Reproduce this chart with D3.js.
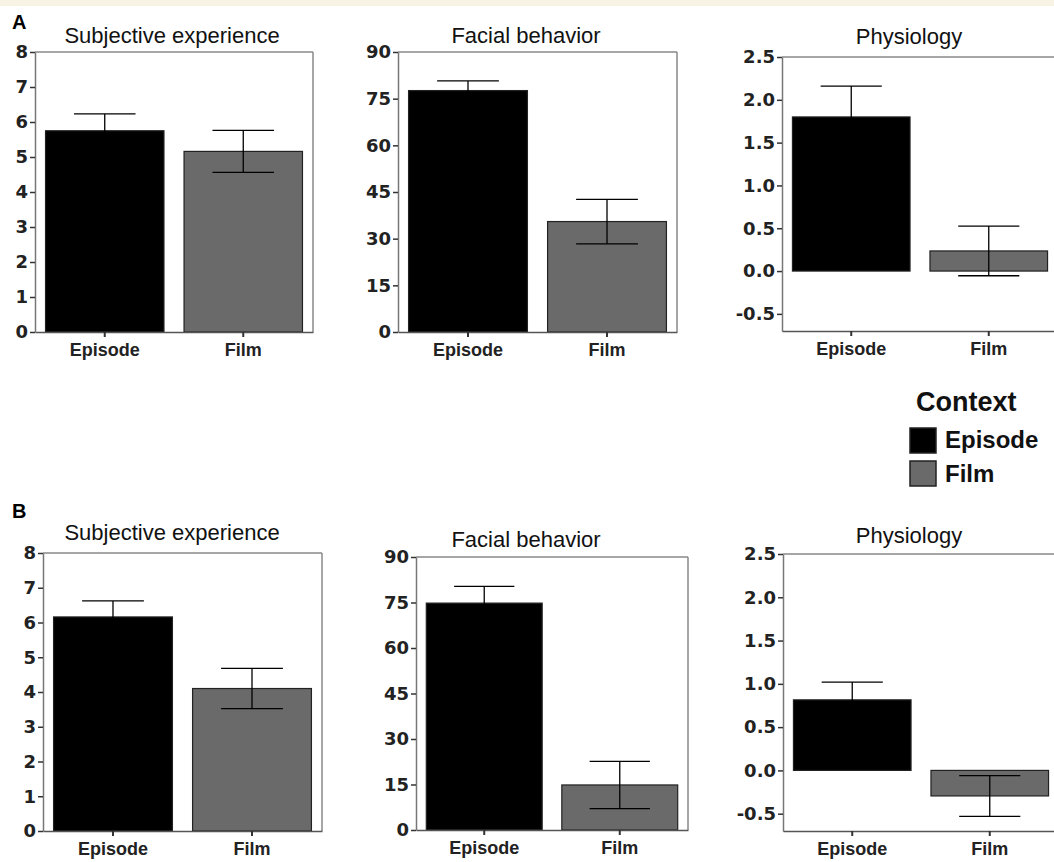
<!DOCTYPE html>
<html>
<head>
<meta charset="utf-8">
<script src="https://cdn.jsdelivr.net/npm/d3@7"></script>
<style>
  body { margin: 0; background: #fff; }
  svg { display: block; }
  text { font-family: "Liberation Sans", Arial, Helvetica, sans-serif; }
  .ytick { font-family: "DejaVu Sans", sans-serif; font-size: 18px; font-weight: bold; }
</style>
</head>
<body>
<div id="chart"></div>
<script>
// data
var contexts = ["Episode", "Film"];
var measures = ["Subjective experience", "Facial behavior", "Physiology"];
var meanA = [[5.75, 5.16], [77.6, 35.5], [1.80, 0.235]];
var semA = [[0.48, 0.60], [3.1, 7.15], [0.36, 0.29]];
var meanB = [[6.16, 4.10], [74.8, 14.85], [0.815, -0.295]];
var semB = [[0.46, 0.58], [5.5, 7.8], [0.205, 0.235]];
var yDomains = [[0, 8], [0, 90], [-0.7, 2.5]];
var yTicks = [[0, 1, 2, 3, 4, 5, 6, 7, 8], [0, 15, 30, 45, 60, 75, 90], [-0.5, 0, 0.5, 1, 1.5, 2, 2.5]];
var colors = ["#000000", "#6a6a6a"];

// where each panel sits on the page
var layoutA = [
    { l: 35, r: 313, t: 52, b: 332, tx: 172, ty: 43 },
    { l: 398, r: 677, t: 52, b: 332, tx: 526, ty: 43 },
    { l: 782, r: 1058, t: 57, b: 331, tx: 909, ty: 44 }
];
var layoutB = [
    { l: 43, r: 322, t: 553, b: 831, tx: 172, ty: 540 },
    { l: 416, r: 688, t: 557, b: 830, tx: 526, ty: 547 },
    { l: 783, r: 1059, t: 554, b: 831, tx: 909, ty: 543 }
];

var width = 1054, height = 862;

var svg = d3.select("#chart")
    .append("svg")
    .attr("width", width)
    .attr("height", height);

// thin cream strip at the top of the page
svg.append("rect")
    .attr("x", 0).attr("y", 0)
    .attr("width", width).attr("height", 6)
    .attr("fill", "#f6f2e4");

function drawPanel(lay, means, sems, k) {
    var g = svg.append("g");

    var x = d3.scaleBand()
        .domain(contexts)
        .range([lay.l, lay.r])
        .paddingInner(0.145)
        .paddingOuter(0.076);

    var y = d3.scaleLinear()
        .domain(yDomains[k])
        .range([lay.b, lay.t]);

    // top and right frame
    g.append("line")
        .attr("x1", lay.l).attr("x2", lay.r)
        .attr("y1", lay.t).attr("y2", lay.t)
        .attr("stroke", "#888").attr("stroke-width", 1.5);
    g.append("line")
        .attr("x1", lay.r).attr("x2", lay.r)
        .attr("y1", lay.t).attr("y2", lay.b)
        .attr("stroke", "#888").attr("stroke-width", 1.5);

    // bars
    g.selectAll(".bar")
        .data(contexts)
        .enter()
        .append("rect")
        .attr("x", function (c) { return x(c); })
        .attr("y", function (c, i) { return Math.min(y(means[i]), y(0)); })
        .attr("width", x.bandwidth())
        .attr("height", function (c, i) { return Math.abs(y(means[i]) - y(0)); })
        .attr("fill", function (c, i) { return colors[i]; })
        .attr("stroke", "#222")
        .attr("stroke-width", 1.2);

    // error bars (mean +/- sem)
    var capW = x.bandwidth() * 0.52;
    contexts.forEach(function (c, i) {
        var cx = x(c) + x.bandwidth() / 2;
        var hi = y(means[i] + sems[i]);
        var lo = y(means[i] - sems[i]);
        var eb = g.append("g")
            .attr("stroke", "#000")
            .attr("stroke-width", 1.3);
        eb.append("line")
            .attr("x1", cx).attr("x2", cx)
            .attr("y1", hi).attr("y2", lo);
        eb.append("line")
            .attr("x1", cx - capW / 2).attr("x2", cx + capW / 2)
            .attr("y1", hi).attr("y2", hi);
        eb.append("line")
            .attr("x1", cx - capW / 2).attr("x2", cx + capW / 2)
            .attr("y1", lo).attr("y2", lo);
    });

    // y axis
    var fmt = k == 2
        ? function (v) { return d3.format(".1f")(v).replace("\u2212", "-"); }
        : d3.format("d");
    var axisY = g.append("g")
        .attr("transform", "translate(" + lay.l + ",0)")
        .call(d3.axisLeft(y)
            .tickValues(yTicks[k])
            .tickFormat(fmt)
            .tickSize(5)
            .tickSizeOuter(0)
            .tickPadding(2));
    axisY.attr("font-size", null).attr("font-family", null);
    axisY.select(".domain").attr("stroke", "#777").attr("stroke-width", 1.5);
    axisY.selectAll(".tick line").attr("stroke", "#333").attr("stroke-width", 1.5);
    axisY.selectAll(".tick text")
        .attr("class", "ytick")
        .attr("fill", "#222");

    // x axis
    var axisX = g.append("g")
        .attr("transform", "translate(0," + lay.b + ")")
        .call(d3.axisBottom(x)
            .tickSize(5)
            .tickSizeOuter(0)
            .tickPadding(6));
    axisX.attr("font-size", null).attr("font-family", null);
    axisX.select(".domain").attr("stroke", "#555").attr("stroke-width", 1.5);
    axisX.selectAll(".tick line").attr("stroke", "#333").attr("stroke-width", 2);
    axisX.selectAll(".tick text")
        .attr("fill", "#222")
        .style("font-size", "18px")
        .style("font-weight", "bold");

    // panel title
    g.append("text")
        .attr("x", lay.tx)
        .attr("y", lay.ty)
        .attr("text-anchor", "middle")
        .style("font-size", "22px")
        .attr("fill", "#111")
        .text(measures[k]);
}

for (var k = 0; k < 3; k++) {
    drawPanel(layoutA[k], meanA[k], semA[k], k);
    drawPanel(layoutB[k], meanB[k], semB[k], k);
}

// panel letters
svg.append("text").attr("x", 12).attr("y", 29)
    .style("font-size", "20px").style("font-weight", "bold").text("A");
svg.append("text").attr("x", 12).attr("y", 518)
    .style("font-size", "20px").style("font-weight", "bold").text("B");

// legend
var legend = svg.append("g");
legend.append("text")
    .attr("x", 916).attr("y", 411)
    .style("font-size", "27px").style("font-weight", "bold")
    .attr("fill", "#111")
    .text("Context");

legend.selectAll(".sw")
    .data(contexts)
    .enter()
    .append("rect")
    .attr("x", 910)
    .attr("y", function (d, i) { return 428 + i * 33; })
    .attr("width", 26)
    .attr("height", 25)
    .attr("fill", function (d, i) { return colors[i]; })
    .attr("stroke", "#222")
    .attr("stroke-width", 1.5);

legend.selectAll(".lab")
    .data(contexts)
    .enter()
    .append("text")
    .attr("x", 945)
    .attr("y", function (d, i) { return 448 + i * 34; })
    .style("font-size", "24px").style("font-weight", "bold")
    .attr("fill", "#111")
    .text(function (d) { return d; });
</script>
</body>
</html>
